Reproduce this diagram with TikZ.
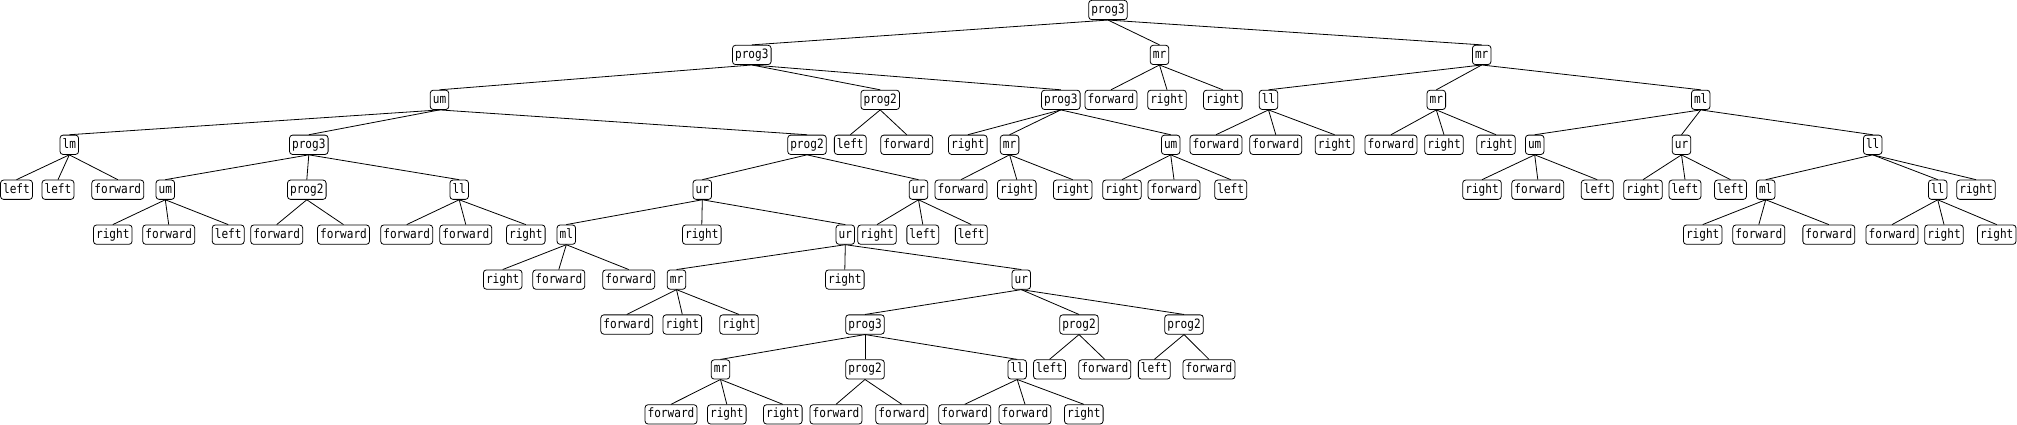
\documentclass[tikz,border=0pt]{standalone}
\usepackage{fontspec}
\newfontfamily\tf[FakeStretch=0.86]{DejaVu Sans Mono}
\begin{document}
\begin{tikzpicture}[x=1pt,y=-1pt,
  tn/.style={draw, rounded corners=3pt, fill=white, inner xsep=2.6pt, inner ysep=0pt,
    minimum height=19.3pt, text height=9.6pt, text depth=2.6pt,
    font=\tf\fontsize{12.9}{14}\selectfont, line width=0.8pt},
  edge/.style={line width=0.8pt}]
\fill[white] (0,0) rectangle (2017,425);
\useasboundingbox (0,0) rectangle (2017,425);
\def\L#1{10+44.93*#1}
% level 0
\node[tn] (n0) at (1108,{\L0}) {prog3};
% level 1
\node[tn] (a) at (751.8,{\L1}) {prog3};
\node[tn] (b) at (1159.5,{\L1}) {mr};
\node[tn] (c) at (1481.7,{\L1}) {mr};
% level 2
\node[tn] (a1) at (439.5,{\L2}) {um};
\node[tn] (a2) at (880.2,{\L2}) {prog2};
\node[tn] (a3) at (1060.8,{\L2}) {prog3};
\node[tn] (b1) at (1111,{\L2}) {forward};
\node[tn] (b2) at (1167,{\L2}) {right};
\node[tn] (b3) at (1222.8,{\L2}) {right};
\node[tn] (c1) at (1268.5,{\L2}) {ll};
\node[tn] (c2) at (1436.3,{\L2}) {mr};
\node[tn] (c3) at (1700.7,{\L2}) {ml};
% level 3
\node[tn] (a11) at (69.3,{\L3}) {lm};
\node[tn] (a12) at (308.8,{\L3}) {prog3};
\node[tn] (a13) at (807,{\L3}) {prog2};
\node[tn] (a21) at (850.3,{\L3}) {left};
\node[tn] (a22) at (906.7,{\L3}) {forward};
\node[tn] (a31) at (967.8,{\L3}) {right};
\node[tn] (a32) at (1009.6,{\L3}) {mr};
\node[tn] (a33) at (1170.7,{\L3}) {um};
\node[tn] (c11) at (1216,{\L3}) {forward};
\node[tn] (c12) at (1275.8,{\L3}) {forward};
\node[tn] (c13) at (1334.6,{\L3}) {right};
\node[tn] (c21) at (1391,{\L3}) {forward};
\node[tn] (c22) at (1444,{\L3}) {right};
\node[tn] (c23) at (1496,{\L3}) {right};
\node[tn] (c31) at (1534.7,{\L3}) {um};
\node[tn] (c32) at (1681.5,{\L3}) {ur};
\node[tn] (c33) at (1872.7,{\L3}) {ll};
% level 4
\node[tn] (a111) at (16.5,{\L4}) {left};
\node[tn] (a112) at (58,{\L4}) {left};
\node[tn] (a113) at (117.8,{\L4}) {forward};
\node[tn] (a121) at (165.3,{\L4}) {um};
\node[tn] (a122) at (306.8,{\L4}) {prog2};
\node[tn] (a123) at (459.2,{\L4}) {ll};
\node[tn] (a131) at (702.3,{\L4}) {ur};
\node[tn] (a132) at (918.5,{\L4}) {ur};
\node[tn] (a321) at (961,{\L4}) {forward};
\node[tn] (a322) at (1016.8,{\L4}) {right};
\node[tn] (a323) at (1072.7,{\L4}) {right};
\node[tn] (a331) at (1122,{\L4}) {right};
\node[tn] (a332) at (1174,{\L4}) {forward};
\node[tn] (a333) at (1230.7,{\L4}) {left};
\node[tn] (c311) at (1482,{\L4}) {right};
\node[tn] (c312) at (1537.8,{\L4}) {forward};
\node[tn] (c313) at (1597.2,{\L4}) {left};
\node[tn] (c321) at (1643,{\L4}) {right};
\node[tn] (c322) at (1685,{\L4}) {left};
\node[tn] (c323) at (1730.5,{\L4}) {left};
\node[tn] (c331) at (1765.7,{\L4}) {ml};
\node[tn] (c332) at (1937.7,{\L4}) {ll};
\node[tn] (c333) at (1976,{\L4}) {right};
% level 5
\node[tn] (a1211) at (112.8,{\L5}) {right};
\node[tn] (a1212) at (168.7,{\L5}) {forward};
\node[tn] (a1213) at (228.2,{\L5}) {left};
\node[tn] (a1221) at (276.7,{\L5}) {forward};
\node[tn] (a1222) at (343.5,{\L5}) {forward};
\node[tn] (a1231) at (406.7,{\L5}) {forward};
\node[tn] (a1232) at (465.8,{\L5}) {forward};
\node[tn] (a1233) at (525.8,{\L5}) {right};
\node[tn] (a1311) at (566.3,{\L5}) {ml};
\node[tn] (a1312) at (701.8,{\L5}) {right};
\node[tn] (a1313) at (845.3,{\L5}) {ur};
\node[tn] (a1321) at (877,{\L5}) {right};
\node[tn] (a1322) at (922.8,{\L5}) {left};
\node[tn] (a1323) at (971.3,{\L5}) {left};
\node[tn] (c3311) at (1702.7,{\L5}) {right};
\node[tn] (c3312) at (1758.8,{\L5}) {forward};
\node[tn] (c3313) at (1828.8,{\L5}) {forward};
\node[tn] (c3321) at (1892,{\L5}) {forward};
\node[tn] (c3322) at (1944,{\L5}) {right};
\node[tn] (c3323) at (1996.7,{\L5}) {right};
% level 6
\node[tn] (d1) at (502.7,{\L6}) {right};
\node[tn] (d2) at (558.8,{\L6}) {forward};
\node[tn] (d3) at (628.7,{\L6}) {forward};
\node[tn] (d4) at (676.5,{\L6}) {mr};
\node[tn] (d5) at (844.8,{\L6}) {right};
\node[tn] (d6) at (1021.3,{\L6}) {ur};
% level 7
\node[tn] (e1) at (626.8,{\L7}) {forward};
\node[tn] (e2) at (682.3,{\L7}) {right};
\node[tn] (e3) at (739,{\L7}) {right};
\node[tn] (f1) at (865,{\L7}) {prog3};
\node[tn] (f2) at (1079,{\L7}) {prog2};
\node[tn] (f3) at (1184,{\L7}) {prog2};
% level 8
\node[tn] (f11) at (720.5,{\L8}) {mr};
\node[tn] (f12) at (865,{\L8}) {prog2};
\node[tn] (f13) at (1017.2,{\L8}) {ll};
\node[tn] (f21) at (1049.5,{\L8}) {left};
\node[tn] (f22) at (1104.8,{\L8}) {forward};
\node[tn] (f31) at (1154.3,{\L8}) {left};
\node[tn] (f32) at (1209,{\L8}) {forward};
% level 9
\node[tn] (f111) at (671,{\L9}) {forward};
\node[tn] (f112) at (726.8,{\L9}) {right};
\node[tn] (f113) at (782.8,{\L9}) {right};
\node[tn] (f121) at (836,{\L9}) {forward};
\node[tn] (f122) at (901.8,{\L9}) {forward};
\node[tn] (f131) at (964.7,{\L9}) {forward};
\node[tn] (f132) at (1025,{\L9}) {forward};
\node[tn] (f133) at (1083.8,{\L9}) {right};
% edges
\foreach \p/\q in {n0/a,n0/b,n0/c,
  a/a1,a/a2,a/a3,b/b1,b/b2,b/b3,c/c1,c/c2,c/c3,
  a1/a11,a1/a12,a1/a13,a2/a21,a2/a22,a3/a31,a3/a32,a3/a33,
  c1/c11,c1/c12,c1/c13,c2/c21,c2/c22,c2/c23,c3/c31,c3/c32,c3/c33,
  a11/a111,a11/a112,a11/a113,a12/a121,a12/a122,a12/a123,a13/a131,a13/a132,
  a32/a321,a32/a322,a32/a323,a33/a331,a33/a332,a33/a333,
  c31/c311,c31/c312,c31/c313,c32/c321,c32/c322,c32/c323,c33/c331,c33/c332,c33/c333,
  a121/a1211,a121/a1212,a121/a1213,a122/a1221,a122/a1222,
  a123/a1231,a123/a1232,a123/a1233,a131/a1311,a131/a1312,a131/a1313,
  a132/a1321,a132/a1322,a132/a1323,
  c331/c3311,c331/c3312,c331/c3313,c332/c3321,c332/c3322,c332/c3323,
  a1311/d1,a1311/d2,a1311/d3,a1313/d4,a1313/d5,a1313/d6,
  d4/e1,d4/e2,d4/e3,d6/f1,d6/f2,d6/f3,
  f1/f11,f1/f12,f1/f13,f2/f21,f2/f22,f3/f31,f3/f32,
  f11/f111,f11/f112,f11/f113,f12/f121,f12/f122,f13/f131,f13/f132,f13/f133}
  \draw[edge] (\p.south) -- (\q.north);
\end{tikzpicture}
\end{document}
